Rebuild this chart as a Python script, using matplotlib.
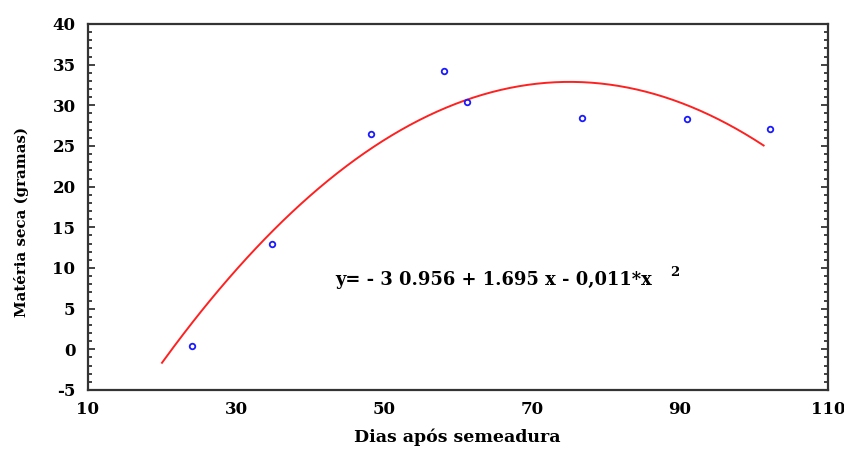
import matplotlib
matplotlib.use("Agg")
import matplotlib.pyplot as plt
import numpy as np
from matplotlib.ticker import MultipleLocator

# Data
dias = [24.0, 34.9, 48.2, 58.1, 61.2, 76.8, 90.9, 102.1]
materia_seca = [0.45, 13.0, 26.5, 34.2, 30.45, 28.5, 28.3, 27.05]

# fitted quadratic (as drawn)
coef_c0 = -31.28
coef_c1 = 1.709
coef_c2 = -0.01138
fit_x_range = [20.0, 101.3]

x_ticks = [10, 30, 50, 70, 90, 110]
y_ticks = [-5, 0, 5, 10, 15, 20, 25, 30, 35, 40]

plt.rcParams['font.family'] = ['DejaVu Serif']
plt.rcParams['font.weight'] = 'bold'
plt.rcParams['axes.unicode_minus'] = False

fig = plt.figure(figsize=(8.44, 4.5), dpi=100)
ax = fig.add_axes([88/844, 1-390/450, (828-88)/844, (390-24)/450])

xf = np.linspace(fit_x_range[0], fit_x_range[1], 200)
yf = coef_c0 + coef_c1*xf + coef_c2*xf**2
ax.plot(xf, yf, color='#ff2020', lw=1.4, zorder=2)
ax.plot(dias, materia_seca, linestyle='none', marker='o', ms=4, mfc='none',
        mec='#1a1aff', mew=1.3, zorder=3)

ax.set_xlim(10, 110)
ax.set_ylim(-5, 40)
ax.set_xticks(x_ticks)
ax.set_yticks(y_ticks)
ax.yaxis.set_minor_locator(MultipleLocator(1))
ax.tick_params(axis='x', length=0, pad=8, labelsize=12)
ax.tick_params(axis='y', which='both', direction='in', left=True, right=True,
               labelsize=12, pad=9, width=1.2, color='#222222')
ax.tick_params(axis='y', which='major', length=5)
ax.tick_params(axis='y', which='minor', length=2.8)
for lab in ax.get_xticklabels() + ax.get_yticklabels():
    lab.set_fontweight('bold')
for s in ax.spines.values():
    s.set_linewidth(1.6)
    s.set_color('#333333')

ax.text(43.4, 8.5, "y= - 3 0.956 + 1.695 x - 0,011*x", fontsize=12.9,
        fontweight='bold', ha='left', va='center')
ax.text(88.6, 9.5, "2", fontsize=9.5, fontweight='bold', ha='left', va='center')

fig.text(457/844, 1-437/450, "Dias após semeadura", fontsize=12.5, fontweight='bold',
         ha='center', va='center')
fig.text(22/844, 1-222/450, "Matéria seca (gramas)", fontsize=10.8, fontweight='bold',
         ha='center', va='center', rotation=90)

fig.savefig("out.png", dpi=100)
